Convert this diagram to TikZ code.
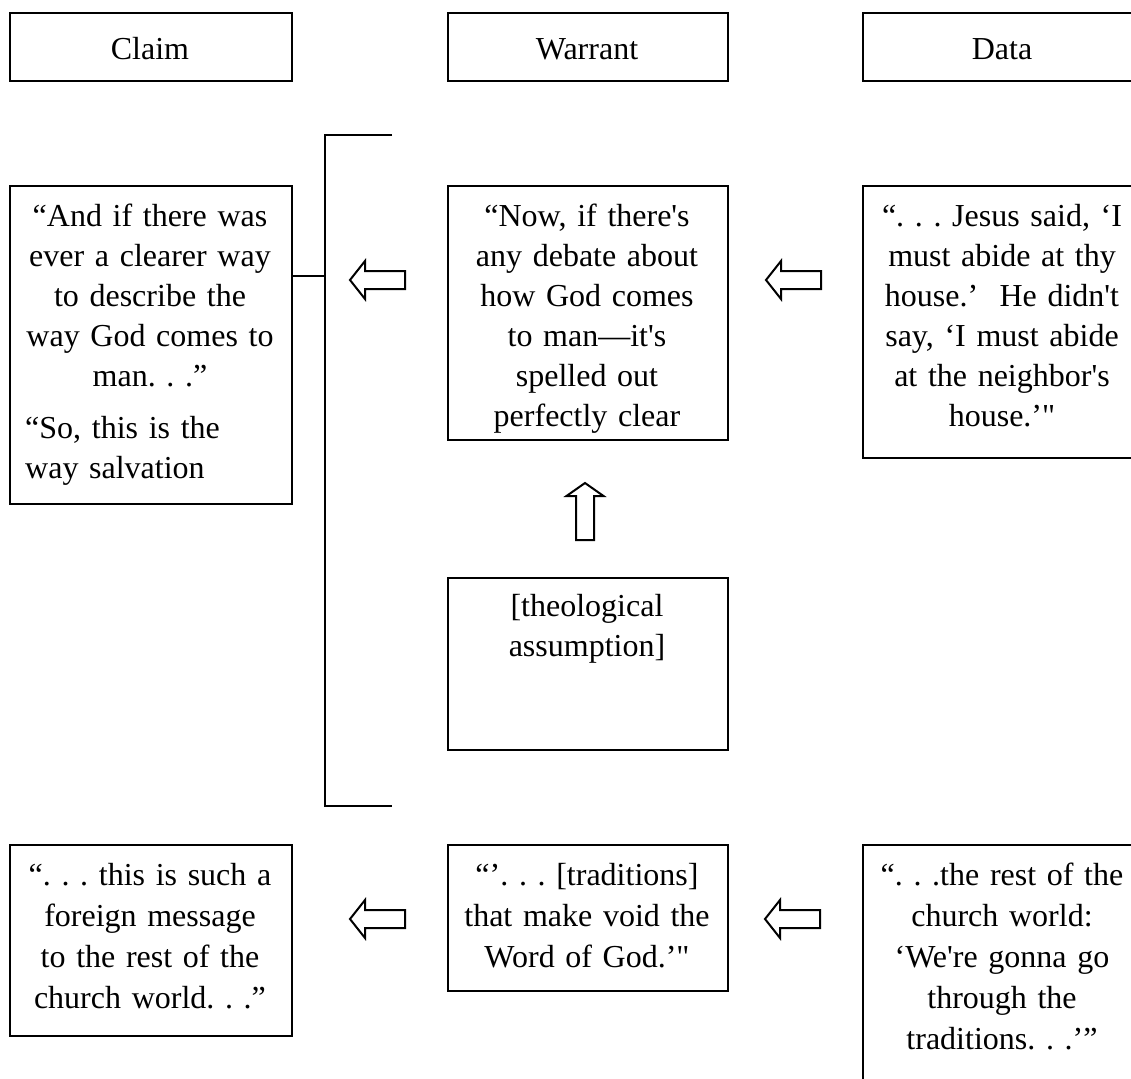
\documentclass[tikz,border=0pt]{standalone}
\usepackage{fontspec}
\usetikzlibrary{calc}
\newfontfamily\tnr{Liberation Serif}
\frenchspacing
\begin{document}
\begin{tikzpicture}[x=1pt,y=-1pt,
  frame/.style={draw, line width=2pt, rectangle, inner sep=0pt, anchor=north west},
  txt/.style={font=\tnr\frenchspacing\fontsize{32}{40}\selectfont, text width=300pt, align=center, inner sep=0pt, anchor=base},
  txtlow/.style={txt, font=\tnr\frenchspacing\fontsize{32}{41}\selectfont},
  txtleft/.style={txt, align=left, anchor=base west},
  rule/.style={line width=2pt},
  blockarrow/.style={draw, line width=2pt, line join=miter, fill=white}]
\useasboundingbox (0,0) rectangle (1131,1078);
\clip (0,0) rectangle (1131,1078);

% column headings
\node[frame, minimum width=282, minimum height=68] (hclaim) at (9,12) {};
\node[frame, minimum width=280, minimum height=68] (hwarrant) at (447,12) {};
\node[frame, minimum width=281, minimum height=68] (hdata) at (862,12) {};
\node[txt] (hclaimtxt) at (150,60) {Claim};
\node[txt] (hwarranttxt) at (587,60) {Warrant};
\node[txt] (hdatatxt) at (1002,60) {Data};

% first argument
\node[frame, minimum width=282, minimum height=318] (claimA) at (9,185) {};
\node[txt] (claimAtxt) at (150,226) {“And if there was\\ever a clearer way\\to describe the\\way God comes to\\man. . .”};
\node[txtleft] (claimAtxtb) at (25,438) {“So, this is the\\way salvation};

\node[frame, minimum width=280, minimum height=254] (warrantA) at (447,185) {};
\node[txt] (warrantAtxt) at (587,226) {“Now, if there's\\any debate about\\how God comes\\to man—it's\\spelled out\\perfectly clear};

\node[frame, minimum width=281, minimum height=272] (dataA) at (862,185) {};
\node[txt] (dataAtxt) at (1002,226) {“. . . Jesus said, ‘I\\must abide at thy\\house.’\ \ He didn't\\say, ‘I must abide\\at the neighbor's\\house.’"};

\node[frame, minimum width=280, minimum height=172] (backing) at (447,577) {};
\node[txt] (backingtxt) at (587,616) {[theological\\assumption]};

% bracket joining the claim to both warrants
\coordinate (brtop) at (325,135);
\coordinate (brbot) at (325,806);
\coordinate (brmid) at (325,276);
\draw[rule] ($(brtop)+(67,0)$) -- (brtop) -- (brbot) -- ($(brbot)+(67,0)$);
\draw[rule] (claimA.east |- brmid) -- (brmid);

% second argument
\node[frame, minimum width=282, minimum height=191] (claimB) at (9,844) {};
\node[txtlow] (claimBtxt) at (150,885) {“. . . this is such a\\foreign message\\to the rest of the\\church world. . .”};

\node[frame, minimum width=280, minimum height=146] (warrantB) at (447,844) {};
\node[txtlow] (warrantBtxt) at (587,885) {“’. . . [traditions]\\that make void the\\Word of God.’"};

\node[frame, minimum width=281, minimum height=260] (dataB) at (862,844) {};
\node[txtlow] (dataBtxt) at (1002,885) {“. . .the rest of the\\church world:\\‘We're gonna go\\through the\\traditions. . .’”};

% block arrows
\coordinate (tipA1) at (350,280);
\coordinate (tipA2) at (766,280);
\coordinate (tipB1) at (350,919);
\coordinate (tipB2) at (765,919);
\coordinate (tipUp) at (585,483);
\foreach \t in {tipA1,tipA2,tipB1,tipB2}
  \draw[blockarrow] (\t) -- ++(15,-19) -- ++(0,10) -- ++(40,0) -- ++(0,18) -- ++(-40,0) -- ++(0,10) -- cycle;
\draw[blockarrow] (tipUp) -- ++(18.5,13) -- ++(-9.5,0) -- ++(0,44) -- ++(-18,0) -- ++(0,-44) -- ++(-9.5,0) -- cycle;
\end{tikzpicture}
\end{document}
